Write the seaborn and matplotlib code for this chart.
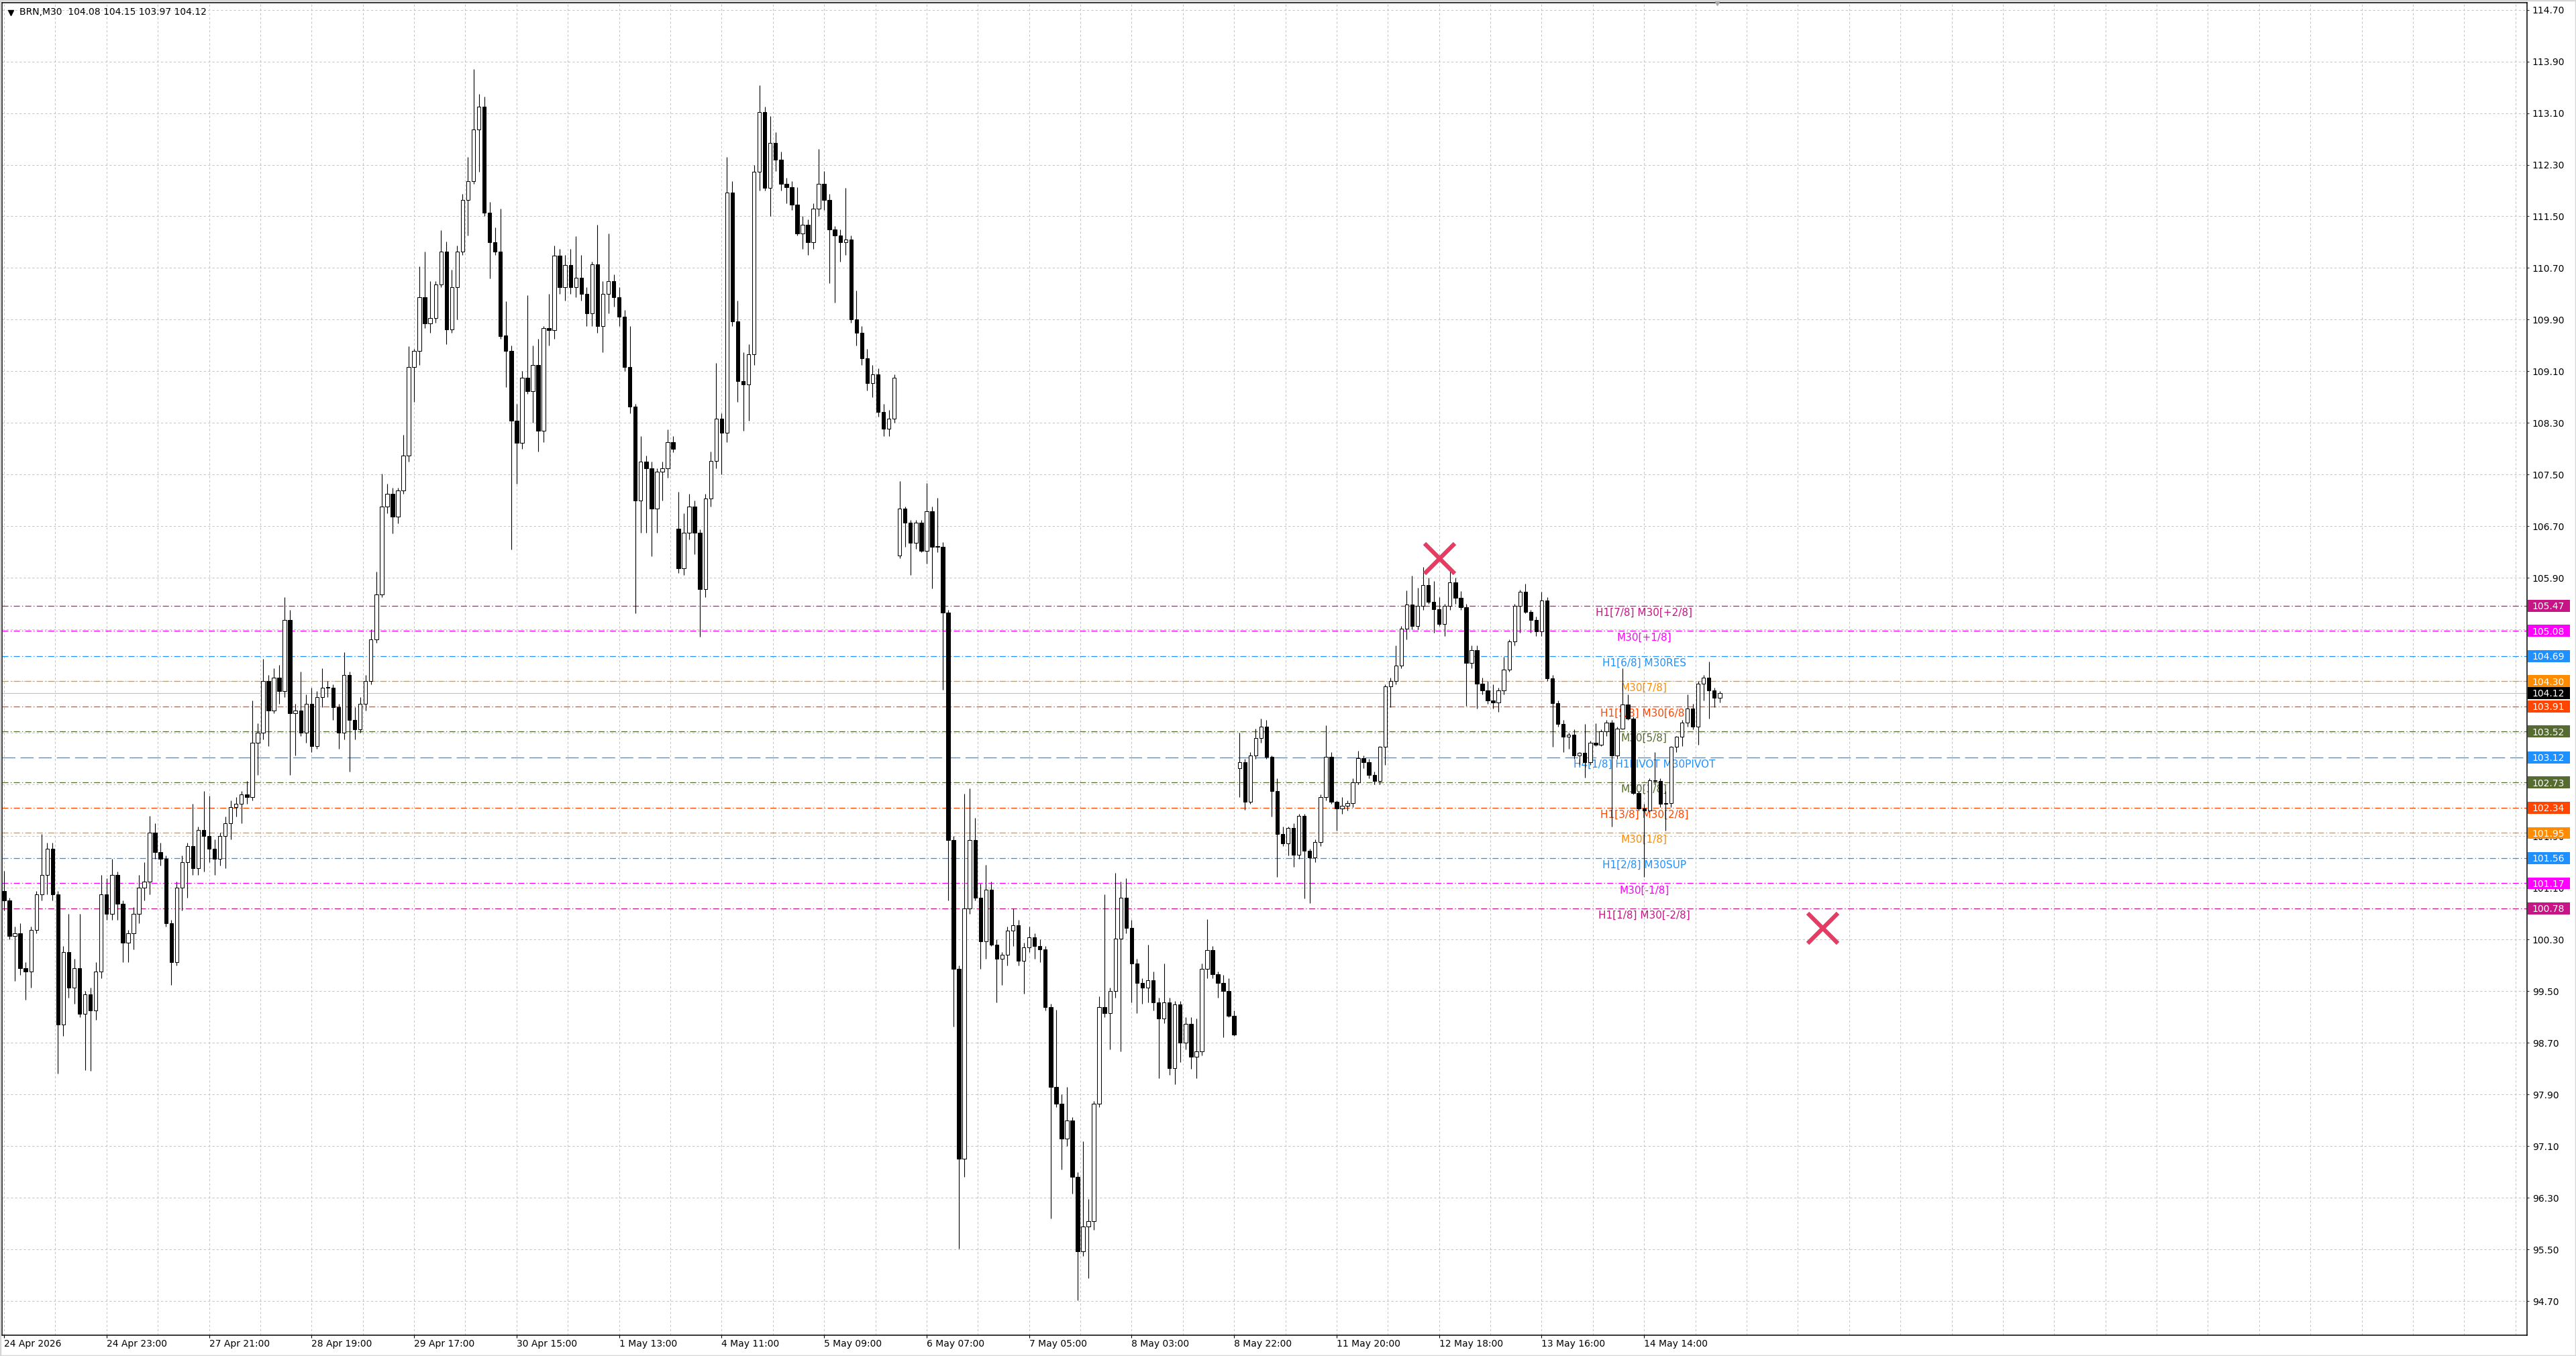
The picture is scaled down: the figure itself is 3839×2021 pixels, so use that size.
import matplotlib
matplotlib.use("Agg")
import numpy as np
import pandas as pd
import matplotlib.pyplot as plt
import matplotlib.transforms as mtransforms
from matplotlib.patches import Rectangle
from matplotlib.markers import MarkerStyle
import seaborn as sns

# ---------------- data (hourly candles) ----------------
chart_title = "BRN,M30  104.08 104.15 103.97 104.12"
first_open = 101.05
gap_opens = {125: 106.66, 166: 106.25, 229: 102.95}

close = [
    100.90, 100.35, 100.40, 99.85, 99.80, 100.45, 101.00, 101.30, 101.70, 101.00,
    98.98, 100.10, 99.55, 99.85, 99.15, 99.45, 99.20, 99.80, 101.00, 100.70,
    101.30, 100.85, 100.25, 100.40, 100.70, 101.10, 101.20, 101.95, 101.65, 101.55,
    100.55, 99.95, 101.10, 101.50, 101.75, 101.40, 102.00, 101.90, 101.70, 101.55,
    101.90, 102.10, 102.35, 102.40, 102.55, 102.50, 103.35, 103.50, 104.30, 103.85,
    104.35, 104.15, 105.25, 103.80, 103.85, 103.50, 103.95, 103.30, 104.05, 104.20,
    104.20, 103.90, 103.50, 104.40, 103.70, 103.55, 103.95, 104.30, 104.95, 105.64,
    107.00, 107.20, 106.85, 107.25, 107.80, 109.17, 109.42, 110.25, 109.84, 109.93,
    110.45, 110.95, 109.75, 110.40, 110.95, 111.75, 112.05, 112.85, 113.20, 111.56,
    111.10, 110.95, 109.65, 109.42, 108.34, 107.99, 109.00, 108.79, 109.20, 108.18,
    109.77, 109.74, 110.89, 110.40, 110.75, 110.40, 110.55, 110.30, 110.00, 110.76,
    109.80, 110.30, 110.50, 110.25, 109.95, 109.17, 108.55, 107.10, 107.70, 107.60,
    106.97, 107.55, 107.60, 108.00, 107.90, 106.05, 106.60, 107.00, 106.60, 105.73,
    107.13, 107.71, 108.37, 108.15, 111.87, 109.87, 108.95, 108.90, 109.36, 112.19,
    113.12, 111.94, 112.64, 112.38, 112.00, 111.95, 111.68, 111.24, 111.37, 111.10,
    111.62, 112.00, 111.75, 111.30, 111.20, 111.10, 111.14, 109.90, 109.70, 109.30,
    108.92, 109.05, 108.47, 108.21, 108.37, 109.00, 106.97, 106.76, 106.44, 106.76,
    106.32, 106.93, 106.38, 106.38, 105.36, 101.84, 99.84, 96.90, 100.78, 101.84,
    100.95, 100.27, 101.07, 100.22, 100.00, 100.06, 100.44, 100.52, 99.97, 100.18,
    100.33, 100.20, 100.15, 99.25, 98.02, 97.76, 97.21, 97.50, 96.62, 95.47,
    95.85, 95.94, 97.76, 99.25, 99.16, 99.50, 100.31, 100.95, 100.48, 99.93,
    99.63, 99.55, 99.67, 99.33, 99.08, 99.33, 98.31, 99.29, 98.70, 98.99,
    98.48, 98.57, 99.84, 100.14, 99.76, 99.63, 99.50, 99.12, 98.83, 103.05,
    102.43, 103.15, 103.42, 103.60, 103.13, 102.60, 101.93, 101.79, 102.03, 101.61,
    102.21, 101.67, 101.57, 101.81, 102.51, 103.13, 102.43, 102.33, 102.37, 102.41,
    102.73, 103.11, 103.05, 102.85, 102.75, 103.28, 104.22, 104.30, 104.54, 105.11,
    105.49, 105.15, 105.47, 105.79, 105.53, 105.41, 105.19, 105.47, 105.83, 105.59,
    105.45, 104.58, 104.78, 104.26, 104.16, 104.00, 103.97, 104.16, 104.48, 104.92,
    105.47, 105.69, 105.37, 105.25, 105.07, 105.55, 104.34, 103.96, 103.64, 103.44,
    103.47, 103.15, 103.19, 103.05, 103.35, 103.32, 103.52, 103.66, 103.15, 103.56,
    103.94, 103.72, 102.57, 102.33, 102.30, 102.77, 102.75, 102.40, 102.41, 103.28,
    103.44, 103.66, 103.88, 103.60, 104.26, 104.36, 104.16, 104.04, 104.12,
]

high = [
    101.36, 100.95, 100.50, 100.55, 99.95, 100.50, 101.05, 101.93, 101.80, 101.80,
    101.05, 100.20, 100.70, 100.00, 100.70, 99.50, 99.55, 99.95, 101.30, 101.25,
    101.55, 101.35, 100.90, 100.45, 100.80, 101.30, 101.50, 102.21, 102.10, 101.80,
    101.60, 100.60, 101.20, 101.60, 101.80, 102.40, 102.05, 102.60, 102.53, 101.85,
    101.95, 102.20, 102.45, 102.50, 102.60, 102.75, 104.00, 103.65, 104.65, 104.40,
    104.50, 104.55, 105.60, 105.40, 103.95, 104.45, 104.10, 104.20, 104.15, 104.50,
    104.30, 104.25, 103.95, 104.75, 104.45, 103.90, 104.05, 104.40, 105.10, 106.00,
    107.51, 107.36, 107.30, 107.30, 108.12, 109.49, 109.45, 110.73, 110.95, 110.50,
    110.50, 111.29, 111.11, 110.67, 111.05, 111.85, 112.42, 113.78, 113.40, 113.35,
    111.72, 111.33, 111.62, 110.19, 109.50, 108.60, 109.10, 110.28, 109.50, 109.60,
    109.80, 110.30, 111.05, 111.00, 110.90, 111.00, 111.19, 110.90, 110.40, 110.80,
    111.37, 110.50, 111.24, 110.60, 110.40, 110.05, 109.80, 108.60, 108.10, 107.80,
    107.70, 107.60, 107.70, 108.20, 108.10, 107.23, 106.90, 107.20, 107.10, 106.65,
    107.20, 107.86, 109.23, 108.45, 112.42, 112.05, 110.20, 109.40, 109.52, 112.30,
    113.53, 113.20, 113.05, 112.80, 112.50, 112.10, 112.05, 111.95, 111.50, 111.45,
    111.70, 112.54, 112.20, 111.85, 111.35, 111.30, 111.94, 111.20, 110.35, 109.80,
    109.45, 109.20, 109.15, 108.60, 108.50, 109.05, 107.40, 107.00, 106.80, 106.80,
    106.80, 107.37, 107.00, 107.14, 106.45, 105.40, 101.90, 99.90, 102.56, 102.64,
    102.18, 101.16, 101.46, 101.20, 100.30, 100.10, 100.50, 100.78, 100.60, 100.25,
    100.50, 100.40, 100.30, 100.20, 99.30, 99.21, 97.90, 98.02, 97.55, 96.70,
    97.17, 96.28, 97.80, 99.42, 101.00, 99.55, 101.33, 101.20, 101.25, 100.60,
    100.00, 99.70, 100.22, 99.80, 99.40, 99.93, 99.40, 99.35, 99.35, 99.10,
    99.10, 99.08, 99.93, 100.61, 100.20, 99.80, 99.75, 99.70, 99.20, 103.50,
    103.10, 103.20, 103.56, 103.72, 103.70, 103.15, 102.80, 102.05, 102.05, 102.10,
    102.25, 102.25, 101.70, 101.85, 102.55, 103.62, 103.20, 102.45, 102.51, 102.45,
    102.80, 103.22, 103.15, 103.10, 102.90, 103.30, 104.25, 104.35, 104.85, 105.15,
    105.71, 105.93, 105.75, 106.07, 105.90, 105.85, 105.60, 105.50, 106.03, 105.90,
    105.70, 105.50, 104.85, 104.85, 104.35, 104.30, 104.25, 104.20, 104.68, 104.95,
    105.50, 105.72, 105.81, 105.40, 105.30, 105.69, 105.60, 104.40, 104.00, 103.70,
    103.50, 103.55, 103.20, 103.64, 103.38, 103.65, 103.55, 103.70, 103.70, 103.60,
    104.50, 104.10, 103.75, 102.60, 102.40, 102.80, 103.20, 102.80, 102.60, 103.30,
    103.45, 103.70, 104.10, 103.95, 104.30, 104.40, 104.60, 104.20, 104.15,
]

low = [
    100.75, 100.30, 99.66, 99.75, 99.37, 99.55, 100.40, 100.90, 101.00, 100.90,
    98.22, 98.80, 99.40, 99.30, 99.10, 98.28, 98.26, 99.05, 99.70, 100.60,
    100.60, 100.60, 99.95, 99.95, 100.15, 100.55, 100.90, 101.00, 101.55, 101.45,
    100.50, 99.60, 99.90, 100.75, 100.95, 101.30, 101.30, 101.35, 101.50, 101.30,
    101.45, 101.40, 101.85, 102.20, 102.10, 102.40, 102.45, 102.85, 103.40, 103.30,
    103.80, 103.95, 104.05, 102.85, 103.15, 103.45, 103.35, 103.20, 103.25, 103.90,
    104.05, 103.70, 103.25, 103.40, 102.90, 103.40, 103.50, 103.85, 104.25, 104.90,
    105.60, 106.90, 106.59, 106.75, 107.20, 107.70, 108.63, 109.20, 109.77, 109.70,
    109.85, 110.40, 109.52, 109.70, 109.90, 110.90, 111.20, 112.00, 112.19, 111.50,
    110.54, 110.90, 109.60, 108.85, 106.34, 107.36, 107.90, 108.75, 108.30, 107.86,
    108.00, 109.50, 109.60, 110.30, 110.20, 110.30, 110.25, 110.20, 109.80, 109.80,
    109.70, 109.40, 110.00, 110.10, 109.80, 109.10, 108.45, 105.35, 106.60, 106.60,
    106.24, 106.60, 107.10, 107.45, 107.85, 105.98, 105.95, 106.50, 106.27, 104.99,
    105.60, 107.00, 107.60, 107.50, 108.00, 109.80, 108.63, 108.18, 108.34, 109.20,
    111.90, 111.90, 111.50, 112.20, 111.90, 111.70, 111.60, 111.20, 111.00, 110.90,
    111.00, 111.50, 111.60, 110.47, 110.16, 110.80, 110.90, 109.85, 109.50, 109.20,
    108.80, 108.70, 108.40, 108.10, 108.10, 108.30, 106.20, 106.38, 105.95, 106.35,
    106.30, 106.12, 105.74, 106.30, 104.17, 100.90, 98.95, 95.51, 96.62, 100.70,
    100.90, 99.84, 100.00, 100.20, 99.33, 99.60, 99.90, 100.20, 99.90, 99.46,
    100.10, 100.00, 99.95, 99.20, 95.98, 97.70, 96.74, 97.10, 96.36, 94.71,
    95.40, 95.05, 95.80, 97.70, 99.10, 98.60, 99.40, 98.57, 100.40, 99.33,
    99.16, 99.30, 99.33, 99.20, 98.15, 99.00, 98.20, 98.06, 98.40, 98.60,
    98.30, 98.15, 98.50, 99.70, 99.70, 99.40, 98.78, 99.10, 98.80, 102.50,
    102.31, 102.40, 103.10, 103.35, 103.10, 102.20, 101.27, 101.75, 101.60, 101.42,
    101.55, 100.94, 100.86, 101.50, 101.75, 102.45, 102.40, 101.99, 102.25, 102.30,
    102.35, 102.70, 102.95, 102.80, 102.70, 102.70, 103.00, 103.90, 104.25, 104.50,
    104.95, 105.10, 105.10, 105.40, 105.50, 105.05, 105.15, 105.00, 105.40, 105.50,
    105.40, 103.92, 104.50, 103.88, 104.10, 103.95, 103.88, 103.82, 104.10, 104.45,
    104.85, 105.05, 105.35, 105.05, 105.00, 105.00, 104.30, 103.28, 103.60, 103.20,
    103.25, 103.10, 103.00, 102.81, 103.00, 103.30, 103.30, 103.45, 102.05, 103.10,
    103.55, 103.70, 102.55, 102.30, 101.27, 102.28, 102.70, 102.35, 101.99, 102.35,
    103.20, 103.30, 103.60, 103.55, 103.32, 104.00, 103.72, 103.90, 103.97,
]

x_tick_labels = [
    "24 Apr 2026", "24 Apr 23:00", "27 Apr 21:00", "28 Apr 19:00", "29 Apr 17:00",
    "30 Apr 15:00", "1 May 13:00", "4 May 11:00", "5 May 09:00", "6 May 07:00",
    "7 May 05:00", "8 May 03:00", "8 May 22:00", "11 May 20:00", "12 May 18:00",
    "13 May 16:00", "14 May 14:00",
]
y_tick_values = [
    94.70, 95.50, 96.30, 97.10, 97.90, 98.70, 99.50, 100.30, 101.10, 101.90,
    102.70, 103.50, 104.30, 105.10, 105.90, 106.70, 107.50, 108.30, 109.10,
    109.90, 110.70, 111.50, 112.30, 113.10, 113.90, 114.70,
]

level_prices = [105.47, 105.08, 104.69, 104.30, 103.91, 103.52, 103.12,
                102.73, 102.34, 101.95, 101.56, 101.17, 100.78]
level_labels = ["H1[7/8] M30[+2/8]", "M30[+1/8]", "H1[6/8] M30RES", "M30[7/8]",
                "H1[5/8] M30[6/8]", "M30[5/8]", "H4[1/8] H1PIVOT M30PIVOT",
                "M30[3/8]", "H1[3/8] M30[2/8]", "M30[1/8]", "H1[2/8] M30SUP",
                "M30[-1/8]", "H1[1/8] M30[-2/8]"]
level_colors = ["#C71585", "#FF00FF", "#1E90FF", "#FF8C00", "#FF4500", "#556B2F",
                "#1E90FF", "#556B2F", "#FF4500", "#FF8C00", "#1E90FF", "#FF00FF",
                "#C71585"]
level_styles = ["dashdot"] * 6 + ["dashed"] + ["dashdot"] * 6

current_price = 104.12
x_mark_bars = [532, 674]          # position in M30 bars
x_mark_prices = [106.21, 100.48]

# ---------------- build candle table ----------------
n = min(len(close), len(high), len(low))
opens = []
prev = first_open
for i in range(n):
    opens.append(gap_opens.get(i, prev))
    prev = close[i]
df = pd.DataFrame({"hour": np.arange(n), "open": opens, "high": high[:n],
                   "low": low[:n], "close": close[:n]})
df["x"] = df["hour"] * 2.0  # centre of the hour in M30-bar units
df["high"] = df[["high", "open", "close"]].max(axis=1)
df["low"] = df[["low", "open", "close"]].min(axis=1)
df["bull"] = df["close"] >= df["open"]

# ---------------- styling ----------------
sns.set_theme(style="white")
plt.rcParams["font.family"] = ["DejaVu Sans"]
plt.rcParams["lines.scale_dashes"] = False

W, H = 3839, 2021
fig = plt.figure(figsize=(W / 100, H / 100), dpi=100, facecolor="white")
ax_l, ax_r, ax_t, ax_b = 3, 3766, 4, 1990
ax = fig.add_axes([ax_l / W, 1 - ax_b / H, (ax_r - ax_l) / W, (ax_b - ax_t) / H])
ax.set_facecolor("white")

ax.set_xlim(-0.75, 935.3)
ax.set_ylim(94.17, 114.81)

# grid
grid_kw = dict(color="#C4C4C4", lw=0.75, ls=(0, (2.3, 2.3)))
major_pos = [38 * k for k in range(len(x_tick_labels))]
ax.set_xticks(major_pos)
ax.set_xticklabels(x_tick_labels, ha="left", fontsize=10, color="black")
ax.set_xticks([19 * k for k in range(50)], minor=True)
ax.tick_params(axis="x", which="major", direction="out", length=3, width=0.8,
               pad=1.5, bottom=True, colors="black")
ax.tick_params(axis="x", which="minor", length=0, bottom=False)
ax.xaxis.grid(True, which="both", **grid_kw)

ax.yaxis.tick_right()
ax.set_yticks(y_tick_values)
ax.set_yticklabels([f"{v:.2f}" for v in y_tick_values], fontsize=10, color="black")
ax.tick_params(axis="y", direction="out", length=2, width=0.8, pad=3.5,
               right=True, left=False, labelright=True, labelleft=False)
ax.yaxis.grid(True, **grid_kw)
ax.set_axisbelow(True)

for s in ax.spines.values():
    s.set_color("black")
    s.set_linewidth(1.1)

# level lines, labels and price boxes
dash_map = {"dashdot": (0, (6.5, 2.4, 1.0, 2.4)), "dashed": (0, (14.0, 5.5))}
trans = mtransforms.blended_transform_factory(ax.transAxes, ax.transData)
box_w = 63 / (ax_r - ax_l)
box_h = 0.185
ax.axhline(current_price, color="#C0C0C0", lw=0.8, zorder=1.5)
ax.add_patch(Rectangle((1.0003, current_price - box_h / 2), box_w, box_h,
                       transform=trans, facecolor="black", edgecolor="none",
                       clip_on=False, zorder=9))
ax.text(1.0 + 7 / (ax_r - ax_l), current_price, f"{current_price:.2f}",
        transform=trans, color="white", fontsize=10, ha="left",
        va="center_baseline", clip_on=False, zorder=9.5)

label_x = 608
for p, lab, col, st in zip(level_prices, level_labels, level_colors, level_styles):
    ax.axhline(p, color=col, lw=0.9, ls=dash_map[st], zorder=2)
    ax.text(label_x, p - 0.03, lab, color=col, fontsize=11, ha="center",
            va="top", zorder=3)
    ax.add_patch(Rectangle((1.0003, p - box_h / 2), box_w, box_h, transform=trans,
                           facecolor=col, edgecolor="none", clip_on=False, zorder=10))
    ax.text(1.0 + 7 / (ax_r - ax_l), p, f"{p:.2f}", transform=trans, color="white",
            fontsize=10, ha="left", va="center_baseline", clip_on=False, zorder=11)

# candles
ax.vlines(df["x"], df["low"], df["high"], color="black", lw=0.8, zorder=4)
body_bottom = np.minimum(df["open"], df["close"])
body_h = np.maximum(np.abs(df["close"] - df["open"]), 0.012)
ax.bar(df["x"], body_h, bottom=body_bottom, width=1.35,
       color=np.where(df["bull"], "white", "black"), edgecolor="black",
       linewidth=0.75, zorder=5)

# X marks
xm = MarkerStyle("x", capstyle="round")
ax.scatter(x_mark_bars, x_mark_prices, marker=xm, s=1050, color="#E63C64",
           linewidths=4.5, zorder=7)

# title with triangle
ax.plot([0.0035], [0.9925], marker="v", ms=5.5, color="black",
        transform=ax.transAxes, clip_on=False, zorder=12)
ax.text(0.0068, 0.9965, chart_title, transform=ax.transAxes, fontsize=10,
        color="black", ha="left", va="top", zorder=12)

# chart-shift marker at the top
ax.plot([635], [114.81], marker="v", ms=6, color="#A8A8A8", clip_on=False,
        transform=ax.transData, zorder=12)

# outer light frame of the window
fig.add_artist(Rectangle((0, 0), 1, 1, transform=fig.transFigure, fill=False,
                         edgecolor="#D6D6D6", lw=2.5))

fig.savefig("out.png", dpi=100, facecolor="white")
